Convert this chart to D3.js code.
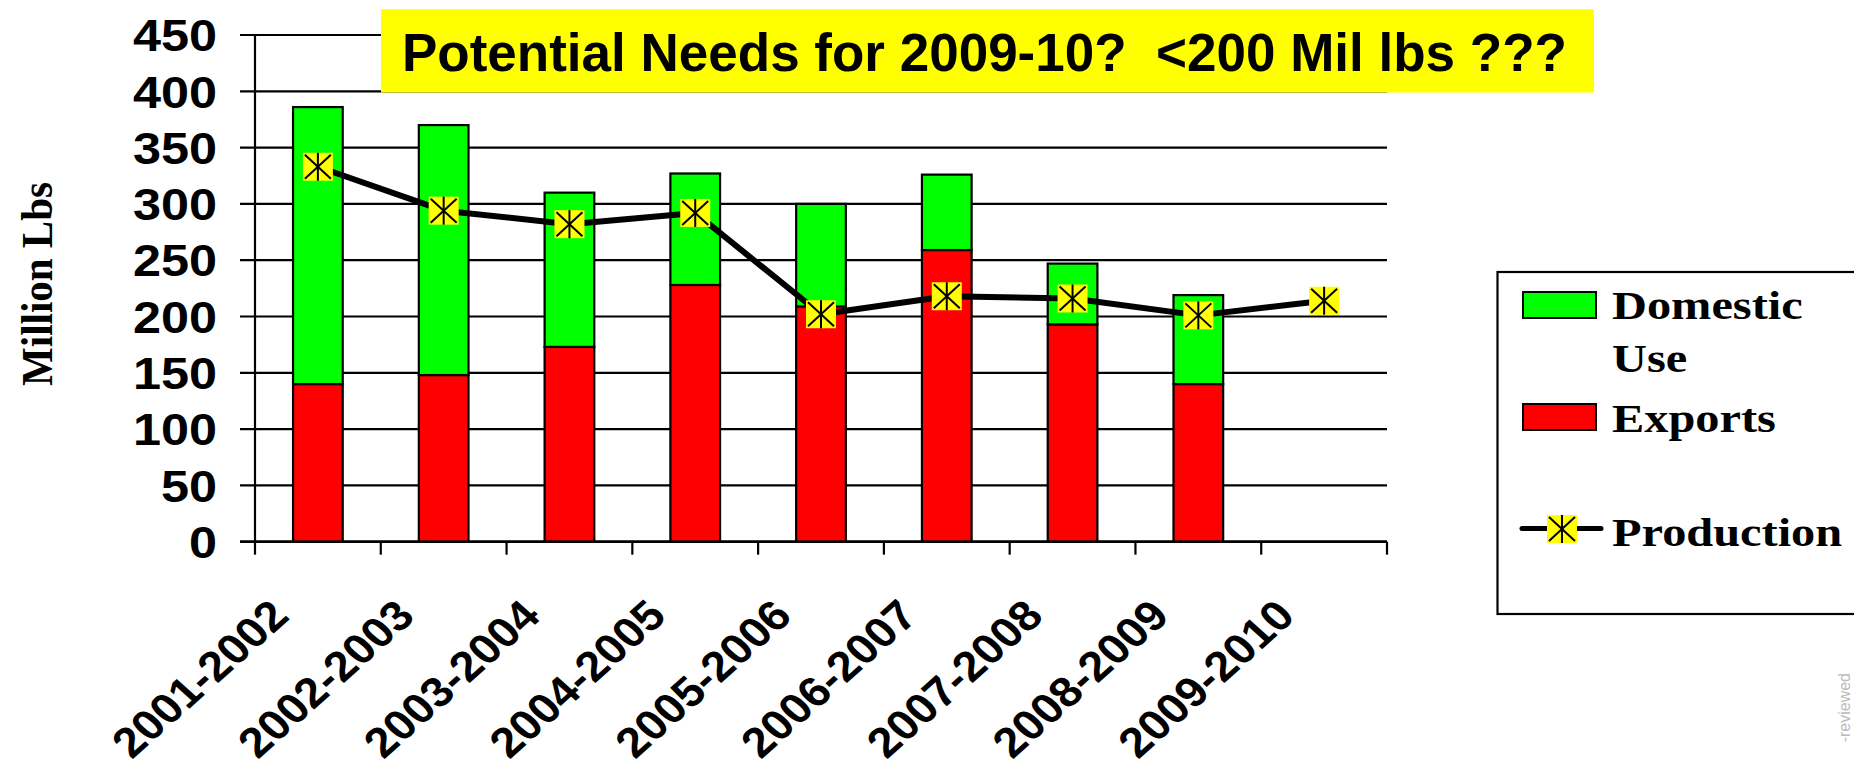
<!DOCTYPE html>
<html>
<head>
<meta charset="utf-8">
<script src="https://cdn.jsdelivr.net/npm/d3@7"></script>
<style>
  html, body { margin: 0; padding: 0; background: #fff; }
  svg { display: block; }
  text { white-space: pre; }
</style>
</head>
<body>
<script>
// ---- data ----
const categories = ["2001-2002","2002-2003","2003-2004","2004-2005","2005-2006","2006-2007","2007-2008","2008-2009","2009-2010"];
const exportsVals  = [140, 148, 173, 228, 209, 259, 193, 140, null];
const domesticVals = [246, 222, 137,  99,  91,  67,  54,  79, null];
const productionVals = [333, 294, 282, 292, 202, 218, 216, 201, 214];
const yTicks = [0, 50, 100, 150, 200, 250, 300, 350, 400, 450];
const titleText = "Potential Needs for 2009-10?  <200 Mil lbs ???";
const yTitle = "Million Lbs";
const legendLabels = [["Domestic", "Use"], ["Exports"], ["Production"]];
const noteText = "-reviewed";

const W = 1854, H = 768;
const svg = d3.select("body").append("svg").attr("width", W).attr("height", H);

const x = d3.scaleBand().domain(categories).range([255, 1387]).paddingInner(0).paddingOuter(0);
const y = d3.scaleLinear().domain([0, 450]).range([541.7, 35]);
const barW = x.bandwidth() * 0.395;

const SANS = "'Liberation Sans', Arial, sans-serif";
const SERIF = "'Liberation Serif', 'Times New Roman', serif";

// gridlines
svg.append("g").selectAll("line").data(yTicks).join("line")
  .attr("x1", 240).attr("x2", x.range()[1])
  .attr("y1", d => y(d)).attr("y2", d => y(d))
  .attr("stroke", "#000").attr("stroke-width", 2.2);

// y axis line
svg.append("line").attr("x1", 255).attr("x2", 255).attr("y1", y(450)).attr("y2", y(0))
  .attr("stroke", "#000").attr("stroke-width", 2.2);

// x axis ticks at band boundaries
const bounds = categories.map(c => x(c)).concat([x.range()[1]]);
svg.append("g").selectAll("line").data(bounds).join("line")
  .attr("x1", d => d).attr("x2", d => d).attr("y1", y(0)).attr("y2", y(0) + 13)
  .attr("stroke", "#000").attr("stroke-width", 2.2);

// y tick labels
svg.append("g").selectAll("text").data(yTicks).join("text")
  .attr("transform", d => `translate(217,${y(d)}) scale(1.12,1)`)
  .attr("text-anchor", "end").attr("dy", "0.36em")
  .attr("font-family", SANS).attr("font-weight", "bold").attr("font-size", 45)
  .text(d => d);

// x labels
svg.append("g").selectAll("text").data(categories).join("text")
  .attr("transform", d => `translate(${x(d) + x.bandwidth()/2 - 27},618) scale(1.12,1) rotate(-45)`)
  .attr("text-anchor", "end")
  .attr("font-family", SANS).attr("font-weight", "bold").attr("font-size", 42)
  .text(d => d);

// stacked bars
const bars = svg.append("g");
categories.forEach((c, i) => {
  if (exportsVals[i] == null) return;
  const cx = x(c) + x.bandwidth()/2;
  const e = exportsVals[i], dmv = domesticVals[i];
  bars.append("rect").attr("x", cx - barW/2).attr("width", barW)
    .attr("y", y(e)).attr("height", y(0) - y(e))
    .attr("fill", "#ff0000").attr("stroke", "#000").attr("stroke-width", 2.2);
  bars.append("rect").attr("x", cx - barW/2).attr("width", barW)
    .attr("y", y(e + dmv)).attr("height", y(e) - y(e + dmv))
    .attr("fill", "#00ff00").attr("stroke", "#000").attr("stroke-width", 2.2);
});

// production line
const line = d3.line().x((d, i) => x(categories[i]) + x.bandwidth()/2).y(d => y(d));
svg.append("path").datum(productionVals).attr("d", line)
  .attr("fill", "none").attr("stroke", "#000").attr("stroke-width", 6).attr("stroke-linejoin", "round");

function marker(g, cx, cy) {
  const w = 30, h = 28;
  g.append("rect").attr("x", cx - w/2).attr("y", cy - h/2).attr("width", w).attr("height", h).attr("fill", "#ffff00");
  const s = g.append("g").attr("stroke", "#000").attr("stroke-width", 2);
  s.append("line").attr("x1", cx).attr("x2", cx).attr("y1", cy - h/2).attr("y2", cy + h/2);
  s.append("line").attr("x1", cx - w/2 + 2).attr("x2", cx + w/2 - 2).attr("y1", cy - h/2 + 2).attr("y2", cy + h/2 - 2);
  s.append("line").attr("x1", cx - w/2 + 2).attr("x2", cx + w/2 - 2).attr("y1", cy + h/2 - 2).attr("y2", cy - h/2 + 2);
}
const mg = svg.append("g");
productionVals.forEach((v, i) => marker(mg, x(categories[i]) + x.bandwidth()/2, y(v)));

// axis base line (on top of bars)
svg.append("line").attr("x1", 240).attr("x2", x.range()[1]).attr("y1", y(0)).attr("y2", y(0))
  .attr("stroke", "#000").attr("stroke-width", 2.4);

// title box
svg.append("rect").attr("x", 381).attr("y", 9.3).attr("width", 1213).attr("height", 83.2).attr("fill", "#ffff00");
svg.append("text").attr("x", 402).attr("y", 71)
  .attr("font-family", SANS).attr("font-weight", "bold").attr("font-size", 53)
  .text(titleText);

// y axis title
svg.append("text").attr("transform", "translate(51.5,284) scale(1.1,1) rotate(-90)")
  .attr("text-anchor", "middle")
  .attr("font-family", SERIF).attr("font-weight", "bold").attr("font-size", 41)
  .text(yTitle);

// legend
const lg = svg.append("g");
lg.append("rect").attr("x", 1497.5).attr("y", 272).attr("width", 380).attr("height", 342)
  .attr("fill", "#fff").attr("stroke", "#000").attr("stroke-width", 2.2);
lg.append("rect").attr("x", 1523).attr("y", 292).attr("width", 73).attr("height", 26)
  .attr("fill", "#00ff00").attr("stroke", "#000").attr("stroke-width", 2);
lg.append("rect").attr("x", 1523).attr("y", 404).attr("width", 73).attr("height", 26)
  .attr("fill", "#ff0000").attr("stroke", "#000").attr("stroke-width", 2);
lg.append("line").attr("x1", 1522).attr("x2", 1601).attr("y1", 528.5).attr("y2", 528.5)
  .attr("stroke", "#000").attr("stroke-width", 5).attr("stroke-linecap", "round");
marker(lg, 1562, 529);
const legendPos = [[318.5, 371.5], [431.5], [546]];
legendLabels.forEach((lines, i) => {
  lines.forEach((t, j) => {
    lg.append("text").attr("transform", `translate(1612,${legendPos[i][j]}) scale(1.18,1)`)
      .attr("font-family", SERIF).attr("font-weight", "bold").attr("font-size", 41)
      .text(t);
  });
});

// faint side note
svg.append("text").attr("transform", "translate(1850,673) rotate(-90)")
  .attr("text-anchor", "end").attr("font-family", SANS).attr("font-size", 16).attr("fill", "#bbb")
  .text(noteText);
</script>
</body>
</html>
